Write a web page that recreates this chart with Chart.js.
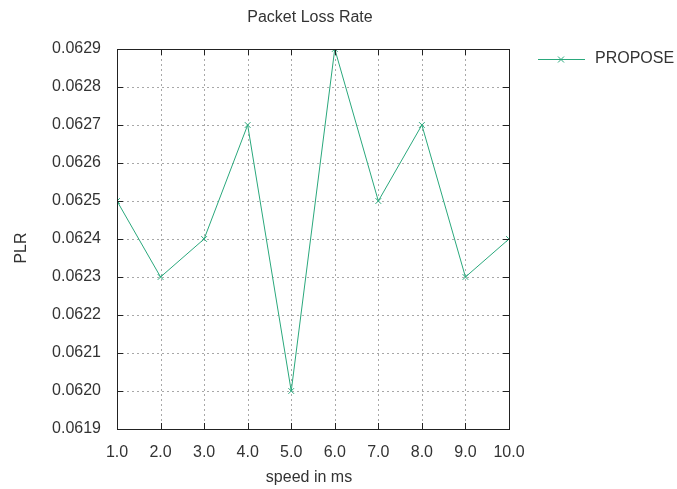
<!DOCTYPE html>
<html>
<head>
<meta charset="utf-8">
<script src="https://cdn.jsdelivr.net/npm/chart.js@4/dist/chart.umd.min.js"></script>
<style>
  html, body { margin: 0; padding: 0; background: #fff; }
  #wrap { width: 677px; height: 489px; }
</style>
</head>
<body>
<div id="wrap"><canvas id="plr" width="677" height="489"></canvas></div>
<script>
var speeds = [1, 2, 3, 4, 5, 6, 7, 8, 9, 10];
var plrValues = [0.0625, 0.0623, 0.0624, 0.0627, 0.0620, 0.0629, 0.0625, 0.0627, 0.0623, 0.0624];
var seriesName = 'PROPOSE';
var chartTitle = 'Packet Loss Rate';
var xTitle = 'speed in ms';
var yTitle = 'PLR';

var lineColor = '#2aa87c';
var textColor = '#333';
var fontFamily = '"Liberation Sans", Arial, sans-serif';

var points = speeds.map(function(s, i) { return { x: s, y: plrValues[i] }; });

// gnuplot look: dotted grid, inward ticks on all four sides, title and legend by hand
var gnuplotBits = {
    id: 'gnuplotBits',
    beforeDatasetsDraw: function(chart) {
        var ctx = chart.ctx;
        var area = chart.chartArea;
        var xs = chart.scales.x, ys = chart.scales.y;
        ctx.save();
        ctx.strokeStyle = '#a8a8a8';
        ctx.lineWidth = 1;
        ctx.setLineDash([2, 3]);
        ctx.beginPath();
        xs.ticks.forEach(function(t) {
            var px = Math.round(xs.getPixelForValue(t.value)) + 0.5;
            ctx.moveTo(px, area.top); ctx.lineTo(px, area.bottom);
        });
        ys.ticks.forEach(function(t) {
            var py = Math.round(ys.getPixelForValue(t.value)) + 0.5;
            ctx.moveTo(area.left, py); ctx.lineTo(area.right, py);
        });
        ctx.stroke();
        ctx.restore();
    },
    afterDraw: function(chart) {
        var ctx = chart.ctx;
        var area = chart.chartArea;
        var xs = chart.scales.x, ys = chart.scales.y;
        ctx.save();

        ctx.strokeStyle = '#222';
        ctx.lineWidth = 1;
        ctx.beginPath();
        xs.ticks.forEach(function(t) {
            var px = Math.round(xs.getPixelForValue(t.value)) + 0.5;
            ctx.moveTo(px, area.bottom); ctx.lineTo(px, area.bottom - 6);
            ctx.moveTo(px, area.top); ctx.lineTo(px, area.top + 6);
        });
        ys.ticks.forEach(function(t) {
            var py = Math.round(ys.getPixelForValue(t.value)) + 0.5;
            ctx.moveTo(area.left, py); ctx.lineTo(area.left + 6, py);
            ctx.moveTo(area.right, py); ctx.lineTo(area.right - 6, py);
        });
        ctx.stroke();
        ctx.strokeRect(Math.round(area.left) + 0.5, Math.round(area.top) + 0.5,
                       Math.round(area.right - area.left), Math.round(area.bottom - area.top));

        ctx.fillStyle = textColor;
        ctx.font = '16px ' + fontFamily;
        ctx.textAlign = 'center';
        ctx.textBaseline = 'middle';
        ctx.fillText(chartTitle, 310, 18);
        ctx.fillText(xTitle, 309, 478);

        ctx.save();
        ctx.translate(22, 248);
        ctx.rotate(-Math.PI / 2);
        ctx.fillText(yTitle, 0, 0);
        ctx.restore();

        // legend
        ctx.strokeStyle = lineColor;
        ctx.beginPath();
        ctx.moveTo(538, 59.5); ctx.lineTo(585, 59.5);
        ctx.moveTo(558, 56.5); ctx.lineTo(564, 62.5);
        ctx.moveTo(564, 56.5); ctx.lineTo(558, 62.5);
        ctx.stroke();
        ctx.fillStyle = textColor;
        ctx.textAlign = 'left';
        ctx.fillText(seriesName, 595, 59);

        ctx.restore();
    }
};

new Chart(document.getElementById('plr').getContext('2d'), {
    type: 'line',
    data: {
        datasets: [{
            label: seriesName,
            data: points,
            borderColor: lineColor,
            backgroundColor: lineColor,
            borderWidth: 1,
            pointStyle: 'crossRot',
            pointRadius: 4,
            pointBorderWidth: 1,
            tension: 0
        }]
    },
    options: {
        responsive: false,
        animation: false,
        layout: { padding: { left: 0, top: 49, right: 168, bottom: 0 } },
        plugins: { legend: { display: false }, title: { display: false }, tooltip: { enabled: false } },
        scales: {
            x: {
                type: 'linear',
                min: 1, max: 10,
                afterFit: function(s) { s.height = 60; },
                grid: { display: false },
                border: { display: false },
                ticks: {
                    stepSize: 1,
                    padding: 6,
                    color: textColor,
                    font: { family: fontFamily, size: 16 },
                    callback: function(v) { return v.toFixed(1); }
                }
            },
            y: {
                min: 0.0619, max: 0.0629,
                afterFit: function(s) { s.width = 117; },
                grid: { display: false },
                border: { display: false },
                ticks: {
                    stepSize: 0.0001,
                    padding: 8,
                    color: textColor,
                    font: { family: fontFamily, size: 16 },
                    callback: function(v) { return v.toFixed(4); }
                }
            }
        }
    },
    plugins: [gnuplotBits]
});
</script>
</body>
</html>
